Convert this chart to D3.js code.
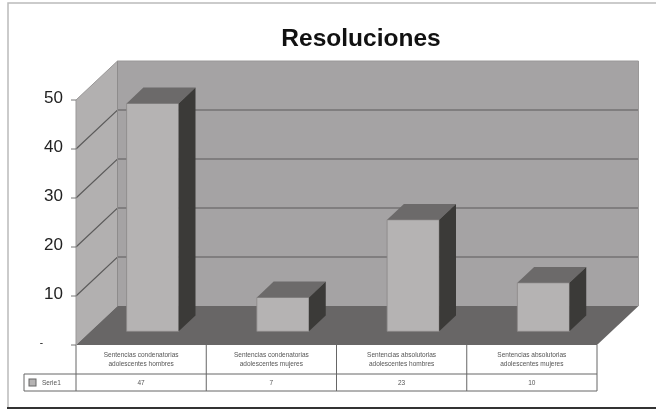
<!DOCTYPE html>
<html>
<head>
<meta charset="utf-8">
<script src="https://cdn.jsdelivr.net/npm/d3@7"></script>
<style>
  html, body { margin: 0; padding: 0; background: #fff; }
  svg { display: block; filter: blur(0.6px); }
  text { font-family: "Liberation Sans", Arial, sans-serif; }
</style>
</head>
<body>
<div class="canvas"></div>
<script>
const categories = [
  ['Sentencias condenatorias', 'adolescentes hombres'],
  ['Sentencias condenatorias', 'adolescentes mujeres'],
  ['Sentencias absolutorias', 'adolescentes hombres'],
  ['Sentencias absolutorias', 'adolescentes mujeres']
];
const values = [47, 7, 23, 10];
const yTicks = [10, 20, 30, 40, 50];
const seriesName = 'Serie1';

const width = 656, height = 409;
const plotLeft = 76, plotRight = 597, plotBase = 345, plotTop = 100;
const depthX = 41.5, depthY = 39;
const barDepth = 17 / 42;    // bars take up this share of the floor depth
const barStart = 0.35;

const svg = d3.select('.canvas').append('svg')
  .attr('width', width)
  .attr('height', height);

svg.append('rect').attr('width', width).attr('height', height).attr('fill', '#fff');

// frame of the pasted picture
svg.append('path').attr('d', `M8,408 V3 H656`).attr('fill', 'none').attr('stroke', '#bbb').attr('stroke-width', 1.5);
svg.append('path').attr('d', `M7,408 H656`).attr('fill', 'none').attr('stroke', '#333').attr('stroke-width', 2);

const y = d3.scaleLinear().domain([0, 50]).range([plotBase, plotTop]);
// bars sit further back, so they come out a little shorter than the front axis
const yBar = d3.scaleLinear().domain([0, 50]).range([plotBase, plotBase - 242.5]);
const x = d3.scaleBand()
  .domain(d3.range(categories.length))
  .range([plotLeft - 3, plotRight - 3])
  .paddingInner(0.6)
  .paddingOuter(0.3);
const step = (plotRight - plotLeft) / categories.length;

// projected point: value v at horizontal position px, depth d (0 front, 1 back)
const pt = (px, v, d, scale = y) => [px + d * depthX, scale(v) - d * depthY];
const poly = pts => d3.line()(pts) + 'Z';

// walls and floor
svg.append('path')
  .attr('d', poly([pt(plotLeft, 0, 1), pt(plotRight, 0, 1), pt(plotRight, 50, 1), pt(plotLeft, 50, 1)]))
  .attr('fill', '#a5a3a4');
svg.append('path')
  .attr('d', poly([pt(plotLeft, 0, 0), pt(plotLeft, 0, 1), pt(plotLeft, 50, 1), pt(plotLeft, 50, 0)]))
  .attr('fill', '#b2b0b0');
svg.append('path')
  .attr('d', poly([pt(plotLeft, 0, 0), pt(plotRight, 0, 0), pt(plotRight, 0, 1), pt(plotLeft, 0, 1)]))
  .attr('fill', '#686666');

// gridlines
const grid = svg.append('g').attr('fill', 'none').attr('stroke', '#5c5b5b').attr('stroke-width', 1.2);
yTicks.slice(0, -1).forEach(t => {
  grid.append('path').attr('d', d3.line()([pt(plotLeft, t, 0), pt(plotLeft, t, 1), pt(plotRight, t, 1)]));
});
svg.append('path')
  .attr('d', d3.line()([pt(plotLeft, 0, 1), pt(plotLeft, 50, 1)]))
  .attr('stroke', '#8e8c8c').attr('fill', 'none');
svg.append('path')
  .attr('d', d3.line()([pt(plotLeft, 0, 0), pt(plotLeft, 50, 0), pt(plotLeft, 50, 1), pt(plotRight, 50, 1), pt(plotRight, 0, 1)]))
  .attr('stroke', '#9a9898').attr('fill', 'none');

// bars
const bars = svg.append('g').selectAll('g').data(values).join('g');
bars.each(function (v, i) {
  const g = d3.select(this);
  const x0 = x(i), x1 = x(i) + x.bandwidth();
  const d0 = barStart, d1 = barStart + barDepth;
  g.append('path')
    .attr('d', poly([pt(x0, 0, d0, yBar), pt(x1, 0, d0, yBar), pt(x1, v, d0, yBar), pt(x0, v, d0, yBar)]))
    .attr('fill', '#b5b3b3').attr('stroke', '#8a8888').attr('stroke-width', 0.8);
  g.append('path')
    .attr('d', poly([pt(x0, v, d0, yBar), pt(x1, v, d0, yBar), pt(x1, v, d1, yBar), pt(x0, v, d1, yBar)]))
    .attr('fill', '#6c6a6a');
  g.append('path')
    .attr('d', poly([pt(x1, 0, d0, yBar), pt(x1, 0, d1, yBar), pt(x1, v, d1, yBar), pt(x1, v, d0, yBar)]))
    .attr('fill', '#3b3a38');
});

// value axis
const yAxis = svg.append('g');
[0].concat(yTicks).forEach(t => {
  yAxis.append('line')
    .attr('x1', plotLeft - 5).attr('x2', plotLeft)
    .attr('y1', y(t)).attr('y2', y(t))
    .attr('stroke', '#777');
  yAxis.append('text')
    .attr('x', t === 0 ? plotLeft - 33 : plotLeft - 13)
    .attr('y', t === 0 ? y(t) - 3 : y(t) - 3)
    .attr('dy', '0.36em')
    .attr('text-anchor', 'end')
    .attr('font-size', t === 0 ? 10 : 17)
    .attr('fill', '#222')
    .text(t === 0 ? '-' : t);
});

// title
svg.append('text')
  .attr('x', 361).attr('y', 46)
  .attr('text-anchor', 'middle')
  .attr('font-size', 24.5)
  .attr('font-weight', 'bold')
  .attr('fill', '#111')
  .text('Resoluciones');

// data table
const tableTop = 345, tableMid = 374, tableBottom = 391, legendLeft = 24;
const table = svg.append('g').attr('stroke', '#666').attr('fill', 'none');
table.append('path').attr('d', `M${plotLeft},${tableBottom} H${plotRight} V${tableTop}`);
table.append('path').attr('d', `M${legendLeft},${tableMid} H${plotRight}`);
table.append('path').attr('d', `M${legendLeft},${tableMid} V${tableBottom} H${plotLeft}`);
d3.range(categories.length).forEach(i => {
  const px = plotLeft + i * step;
  table.append('path').attr('d', `M${px},${tableTop} V${tableBottom}`);
});

categories.forEach((lines, i) => {
  const cx = plotLeft + (i + 0.5) * step;
  lines.forEach((line, j) => {
    svg.append('text')
      .attr('x', cx).attr('y', 357 + j * 9)
      .attr('text-anchor', 'middle')
      .attr('font-size', 6.5)
      .attr('fill', '#555')
      .text(line);
  });
  svg.append('text')
    .attr('x', cx).attr('y', 385)
    .attr('text-anchor', 'middle')
    .attr('font-size', 6.5)
    .attr('fill', '#555')
    .text(values[i]);
});

// legend key
svg.append('rect')
  .attr('x', 29).attr('y', 379).attr('width', 7).attr('height', 7)
  .attr('fill', '#b5b3b3').attr('stroke', '#666');
svg.append('text')
  .attr('x', 42).attr('y', 385)
  .attr('font-size', 6.5)
  .attr('fill', '#555')
  .text(seriesName);
</script>
</body>
</html>
